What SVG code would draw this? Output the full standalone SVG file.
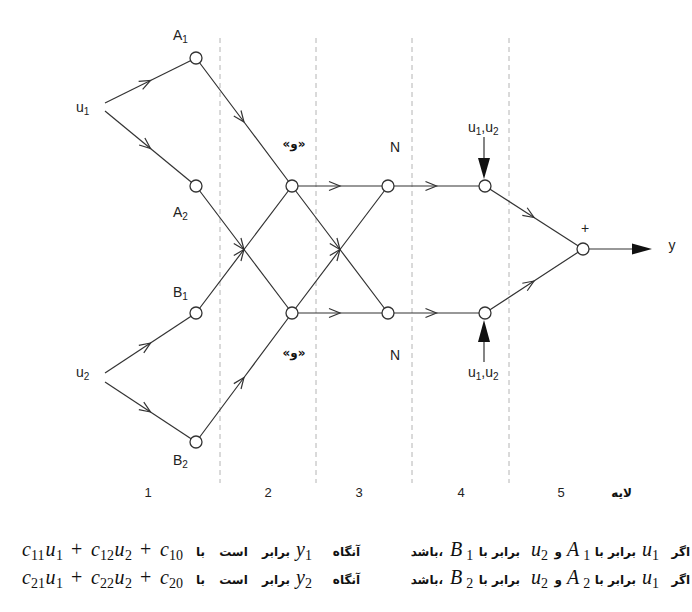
<svg xmlns="http://www.w3.org/2000/svg" width="692" height="612" viewBox="0 0 692 612">
<style>
.edge{stroke:#333;stroke-width:1.2;fill:none}
.mid{marker-mid:url(#chev)}
.node{fill:#fff;stroke:#333;stroke-width:1.3}
.dash{stroke:#b4b4b4;stroke-width:1;stroke-dasharray:5,4}
.lbl{font-family:"Liberation Sans",Arial,sans-serif;font-size:14px;fill:#222}
.sub{font-size:10px}
.num{font-family:"Liberation Sans",Arial,sans-serif;font-size:13px;fill:#222;text-anchor:middle}
.fa{font-family:"DejaVu Sans",sans-serif;font-size:12px;font-weight:bold;fill:#111}
.m{font-family:"Liberation Serif","Times New Roman",serif;font-size:20px;font-style:italic;fill:#111}
.ms{font-family:"Liberation Serif","Times New Roman",serif;font-size:14px;font-style:normal;fill:#111}
.mp{font-family:"Liberation Serif","Times New Roman",serif;font-size:20px;font-style:normal;fill:#111}
</style>
<defs>
<marker id="chev" viewBox="-12 -6 14 12" markerWidth="14" markerHeight="12" refX="0" refY="0" orient="auto" markerUnits="userSpaceOnUse">
<path d="M-11,-4.5 L0,0 L-11,4.5" fill="none" stroke="#333" stroke-width="1.2"/>
</marker>
</defs>
<rect width="692" height="612" fill="#fff"/>
<g id="layers">
<line class="dash" x1="220" y1="38" x2="220" y2="483"/>
<line class="dash" x1="316" y1="38" x2="316" y2="483"/>
<line class="dash" x1="412" y1="38" x2="412" y2="483"/>
<line class="dash" x1="509" y1="38" x2="509" y2="483"/>
<text class="num" x="148" y="497">1</text>
<text class="num" x="268" y="497">2</text>
<text class="num" x="359" y="497">3</text>
<text class="num" x="461" y="497">4</text>
<text class="num" x="561" y="497">5</text>
<text class="fa" x="632" y="497" text-anchor="end">لایه</text>
</g>
<g id="connectors">
<path class="edge mid" d="M105,103 L150.5,80.5 L196,58"/>
<path class="edge mid" d="M105,111 L150.5,148.5 L196,186"/>
<path class="edge mid" d="M105,373 L150.5,343 L196,313"/>
<path class="edge mid" d="M105,382 L150.5,412 L196,442"/>
<path class="edge mid" d="M196,58 L244,122 L292,186"/>
<path class="edge mid" d="M196,186 L244,249.5 L292,313"/>
<path class="edge mid" d="M196,313 L244,249.5 L292,186"/>
<path class="edge mid" d="M196,442 L244,377.5 L292,313"/>
<path class="edge mid" d="M292,186 L340,186 L388,186"/>
<path class="edge mid" d="M292,313 L340,313 L388,313"/>
<path class="edge mid" d="M292,186 L340,249.5 L388,313"/>
<path class="edge mid" d="M292,313 L340,249.5 L388,186"/>
<path class="edge mid" d="M388,186 L436.5,186 L485,186"/>
<path class="edge mid" d="M388,313 L436.5,313 L485,313"/>
<path class="edge mid" d="M485,186 L534,217.5 L583,249"/>
<path class="edge mid" d="M485,313 L534,281 L583,249"/>
<line class="edge" x1="484" y1="137" x2="484" y2="160"/>
<polygon points="478,158 490,158 484,179" fill="#111"/>
<line class="edge" x1="484" y1="362" x2="484" y2="340"/>
<polygon points="478,342 490,342 484,320" fill="#111"/>
<line class="edge" x1="589" y1="249" x2="634" y2="249"/>
<polygon points="632,243.5 632,254.5 652,249" fill="#111"/>
</g>
<g id="u1"><text class="lbl" x="76" y="112">u<tspan class="sub" dy="3">1</tspan></text></g>
<g id="u2"><text class="lbl" x="76" y="377">u<tspan class="sub" dy="3">2</tspan></text></g>
<g id="A1"><circle class="node" cx="196" cy="58" r="6"/><text class="lbl" x="173" y="40">A<tspan class="sub" dy="3">1</tspan></text></g>
<g id="A2"><circle class="node" cx="196" cy="186" r="6"/><text class="lbl" x="173" y="217">A<tspan class="sub" dy="3">2</tspan></text></g>
<g id="B1"><circle class="node" cx="196" cy="313" r="6"/><text class="lbl" x="173" y="297">B<tspan class="sub" dy="3">1</tspan></text></g>
<g id="B2"><circle class="node" cx="196" cy="442" r="6"/><text class="lbl" x="173" y="465">B<tspan class="sub" dy="3">2</tspan></text></g>
<g id="and1"><circle class="node" cx="292" cy="186" r="6"/><text class="fa" x="294" y="148" text-anchor="middle" font-size="11">«و»</text></g>
<g id="and2"><circle class="node" cx="292" cy="313" r="6"/><text class="fa" x="294" y="357" text-anchor="middle" font-size="11">«و»</text></g>
<g id="N1"><circle class="node" cx="388" cy="186" r="6"/><text class="lbl" x="395" y="152" text-anchor="middle">N</text></g>
<g id="N2"><circle class="node" cx="388" cy="313" r="6"/><text class="lbl" x="395" y="360" text-anchor="middle">N</text></g>
<g id="P1"><circle class="node" cx="485" cy="186" r="6"/><text class="lbl" x="468" y="132" font-size="15">u<tspan class="sub" dy="3">1</tspan><tspan dy="-3">,u</tspan><tspan class="sub" dy="3">2</tspan></text></g>
<g id="P2"><circle class="node" cx="485" cy="313" r="6"/><text class="lbl" x="468" y="377" font-size="15">u<tspan class="sub" dy="3">1</tspan><tspan dy="-3">,u</tspan><tspan class="sub" dy="3">2</tspan></text></g>
<g id="sum"><circle class="node" cx="583" cy="249" r="6"/><text class="lbl" x="585" y="233" text-anchor="middle" font-size="12">+</text></g>
<g id="y"><text class="lbl" x="672" y="250" text-anchor="middle" font-size="15">y</text></g>
<g id="rule1">
<text class="fa" x="690" y="556" text-anchor="end">اگر</text>
<text class="m" x="642" y="556">u<tspan class="ms" dy="4">1</tspan></text>
<text class="fa" x="636" y="556" text-anchor="end">برابر با</text>
<text class="m" x="567" y="556">A<tspan class="ms" dx="4" dy="4">1</tspan></text>
<text class="fa" x="562" y="556" text-anchor="end">و</text>
<text class="m" x="531" y="556">u<tspan class="ms" dy="4">2</tspan></text>
<text class="fa" x="520" y="556" text-anchor="end">برابر با</text>
<text class="m" x="450" y="556">B<tspan class="ms" dx="4" dy="4">1</tspan></text>
<text class="fa" x="443" y="556" text-anchor="end">باشد،</text>
<text class="fa" x="360" y="556" text-anchor="end">آنگاه</text>
<text class="m" x="296" y="556">y<tspan class="ms" dy="4">1</tspan></text>
<text class="fa" x="290" y="556" text-anchor="end" word-spacing="10">برابر است با</text>
<text class="m" y="556"><tspan x="22">c</tspan><tspan class="ms" x="31" dy="4">11</tspan><tspan x="45.5" dy="-4">u</tspan><tspan class="ms" x="56" dy="4">1</tspan><tspan class="mp" x="71" dy="-4">+</tspan><tspan x="91">c</tspan><tspan class="ms" x="100" dy="4">12</tspan><tspan x="114.5" dy="-4">u</tspan><tspan class="ms" x="125" dy="4">2</tspan><tspan class="mp" x="140" dy="-4">+</tspan><tspan x="160">c</tspan><tspan class="ms" x="169" dy="4">10</tspan></text>
</g>
<g id="rule2">
<text class="fa" x="690" y="584" text-anchor="end">اگر</text>
<text class="m" x="642" y="584">u<tspan class="ms" dy="4">1</tspan></text>
<text class="fa" x="636" y="584" text-anchor="end">برابر با</text>
<text class="m" x="567" y="584">A<tspan class="ms" dx="4" dy="4">2</tspan></text>
<text class="fa" x="562" y="584" text-anchor="end">و</text>
<text class="m" x="531" y="584">u<tspan class="ms" dy="4">2</tspan></text>
<text class="fa" x="520" y="584" text-anchor="end">برابر با</text>
<text class="m" x="450" y="584">B<tspan class="ms" dx="4" dy="4">2</tspan></text>
<text class="fa" x="443" y="584" text-anchor="end">باشد،</text>
<text class="fa" x="360" y="584" text-anchor="end">آنگاه</text>
<text class="m" x="296" y="584">y<tspan class="ms" dy="4">2</tspan></text>
<text class="fa" x="290" y="584" text-anchor="end" word-spacing="10">برابر است با</text>
<text class="m" y="584"><tspan x="22">c</tspan><tspan class="ms" x="31" dy="4">21</tspan><tspan x="45.5" dy="-4">u</tspan><tspan class="ms" x="56" dy="4">1</tspan><tspan class="mp" x="71" dy="-4">+</tspan><tspan x="91">c</tspan><tspan class="ms" x="100" dy="4">22</tspan><tspan x="114.5" dy="-4">u</tspan><tspan class="ms" x="125" dy="4">2</tspan><tspan class="mp" x="140" dy="-4">+</tspan><tspan x="160">c</tspan><tspan class="ms" x="169" dy="4">20</tspan></text>
</g>
</svg>
